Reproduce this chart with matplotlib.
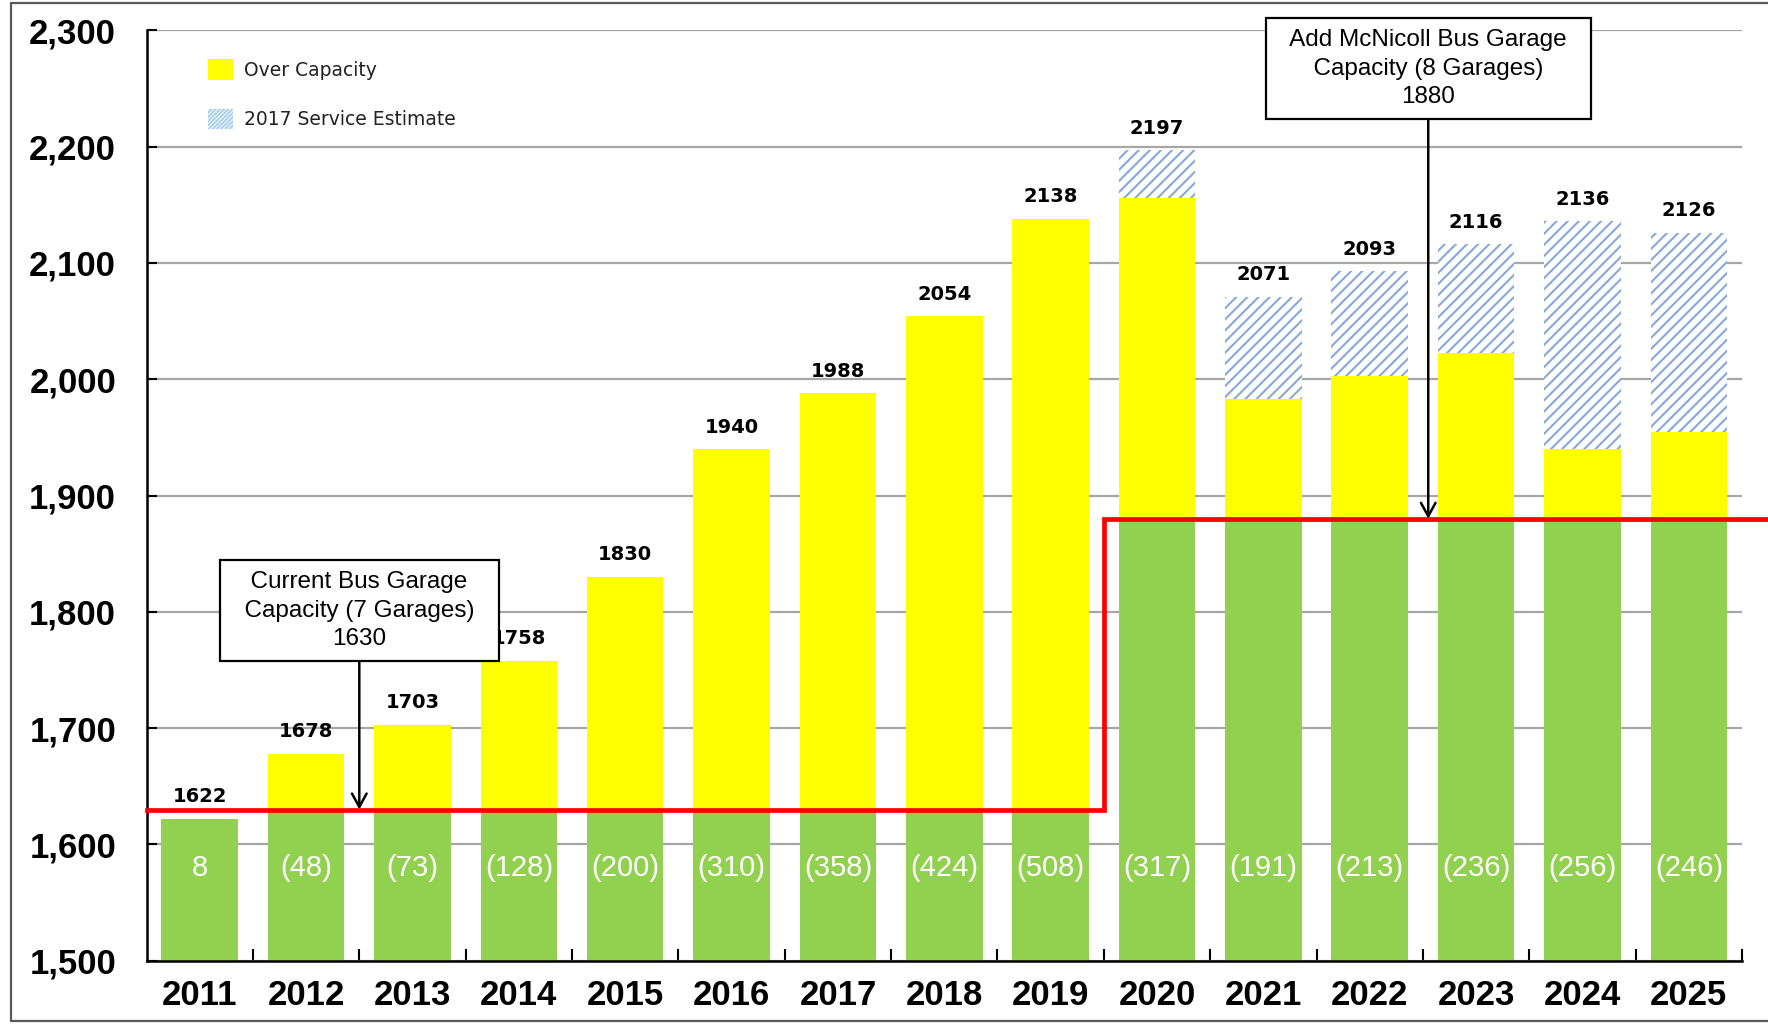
import matplotlib
matplotlib.use("Agg")
import matplotlib.pyplot as plt
from matplotlib.patches import Patch
from matplotlib.lines import Line2D
import numpy as np

# data
years = ["2011", "2012", "2013", "2014", "2015", "2016", "2017", "2018",
         "2019", "2020", "2021", "2022", "2023", "2024", "2025"]
totals = [1622, 1678, 1703, 1758, 1830, 1940, 1988, 2054,
          2138, 2197, 2071, 2093, 2116, 2136, 2126]
capacity = [1630] * 9 + [1880] * 6
# top of the yellow part (before the 2017 service estimate was added)
yellow_top = [1622, 1678, 1703, 1758, 1830, 1940, 1988, 2054,
              2138, 2156, 1983, 2003, 2023, 1940, 1955]
surplus_labels = ["8", "(48)", "(73)", "(128)", "(200)", "(310)", "(358)", "(424)",
                  "(508)", "(317)", "(191)", "(213)", "(236)", "(256)", "(246)"]
current_note = "  Current Bus Garage  \n  Capacity (7 Garages)  \n1630"
mcnicoll_note = "  Add McNicoll Bus Garage  \n  Capacity (8 Garages)  \n1880"

GREEN = "#92D050"
YELLOW = "#FFFF00"
RED = "#FF0000"
HATCH_BLUE = "#86A9D9"
BASE = 1500

ARIAL = ["Liberation Sans", "DejaVu Sans"]


def main():
    plt.rcParams["hatch.linewidth"] = 1.5
    fig = plt.figure(figsize=(17.68, 10.24), dpi=100)
    ax = fig.add_axes([0.0829, 0.0618, 0.9024, 0.9085])

    x = np.arange(len(years))
    w = 0.72
    green_top = np.minimum(totals, capacity)
    yellow_top_arr = np.array(yellow_top)
    totals_arr = np.array(totals)

    ax.bar(x, green_top - BASE, w, bottom=BASE, color=GREEN, zorder=2)
    ax.bar(x, np.maximum(yellow_top_arr - green_top, 0), w, bottom=green_top,
           color=YELLOW, zorder=2)
    ax.bar(x, totals_arr - yellow_top_arr, w, bottom=yellow_top_arr,
           facecolor="white", edgecolor=HATCH_BLUE, hatch="///", linewidth=0, zorder=2)

    # capacity step line
    cap_x = [-0.5, 8.5, 8.5, 14.78]
    cap_y = [capacity[0], capacity[0], capacity[-1], capacity[-1]]
    ax.plot(cap_x, cap_y, color=RED, lw=3.4, zorder=4, clip_on=False,
            solid_joinstyle="miter")

    # value labels
    for xi, t in zip(x, totals):
        ax.annotate(str(t), (xi, t), xytext=(0, 9), textcoords="offset points",
                    ha="center", va="bottom", fontsize=14, fontweight="bold",
                    family="DejaVu Sans", zorder=5)
    for xi, s in zip(x, surplus_labels):
        ax.text(xi, 1580, s, ha="center", va="center", color="white",
                fontsize=21, family=ARIAL, zorder=5)

    # annotation boxes
    box = dict(boxstyle="square,pad=0.45", fc="white", ec="black", lw=1.6)
    arrow = dict(arrowstyle="->,head_length=0.55,head_width=0.3", lw=1.8,
                 color="black", shrinkA=0, shrinkB=0)
    ax.annotate(current_note, xy=(1.5, 1630), xytext=(1.5, 1801),
                ha="center", va="center", fontsize=17.5, family=ARIAL,
                linespacing=1.38, bbox=box, arrowprops=arrow, zorder=6)
    ax.annotate(mcnicoll_note, xy=(11.55, 1880), xytext=(11.55, 2267),
                ha="center", va="center", fontsize=17.5, family=ARIAL,
                linespacing=1.38, bbox=box, arrowprops=arrow, zorder=6)

    # axes styling
    ax.set_xlim(-0.5, 14.5)
    ax.set_ylim(1500, 2300)
    ax.set_yticks(np.arange(1500, 2301, 100))
    ax.set_yticklabels([f"{v:,}" for v in range(1500, 2301, 100)],
                       fontsize=25, fontweight="bold", family=ARIAL)
    ax.set_xticks(x)
    ax.set_xticklabels(years, fontsize=25, fontweight="bold", family=ARIAL)
    ax.set_xticks(np.arange(0.5, 15, 1), minor=True)
    ax.tick_params(axis="x", which="major", length=0, pad=13)
    ax.tick_params(axis="x", which="minor", direction="in", length=9, width=1.5)
    ax.tick_params(axis="y", direction="in", length=7, width=1.5, pad=22)
    ax.yaxis.grid(True, color="#A6A6A6", lw=1.6, zorder=0)
    ax.set_axisbelow(True)
    for side in ("top", "right"):
        ax.spines[side].set_visible(False)
    for side in ("left", "bottom"):
        ax.spines[side].set_linewidth(1.8)
        ax.spines[side].set_zorder(3)

    handles = [Patch(facecolor=YELLOW, edgecolor="none", label="Over Capacity"),
               Patch(facecolor="white", edgecolor="#A9D3EA", hatch="////////",
                     linewidth=0, label="2017 Service Estimate")]
    leg = ax.legend(handles=handles, loc="upper left", bbox_to_anchor=(0.028, 0.987),
                    frameon=False, fontsize=13.5, handlelength=1.35, handleheight=1.3,
                    labelspacing=1.55, handletextpad=0.55)
    for t in leg.get_texts():
        t.set_family("DejaVu Sans")
        t.set_color("#222222")

    # outer chart frame
    fx = [1.0, 0.0064, 0.0064, 1.0]
    fy = [0.9967, 0.9967, 0.0034, 0.0034]
    fig.add_artist(Line2D(fx, fy, transform=fig.transFigure, color="#595959", lw=1.6))

    fig.savefig("out.png", dpi=100)


if __name__ == "__main__":
    main()
